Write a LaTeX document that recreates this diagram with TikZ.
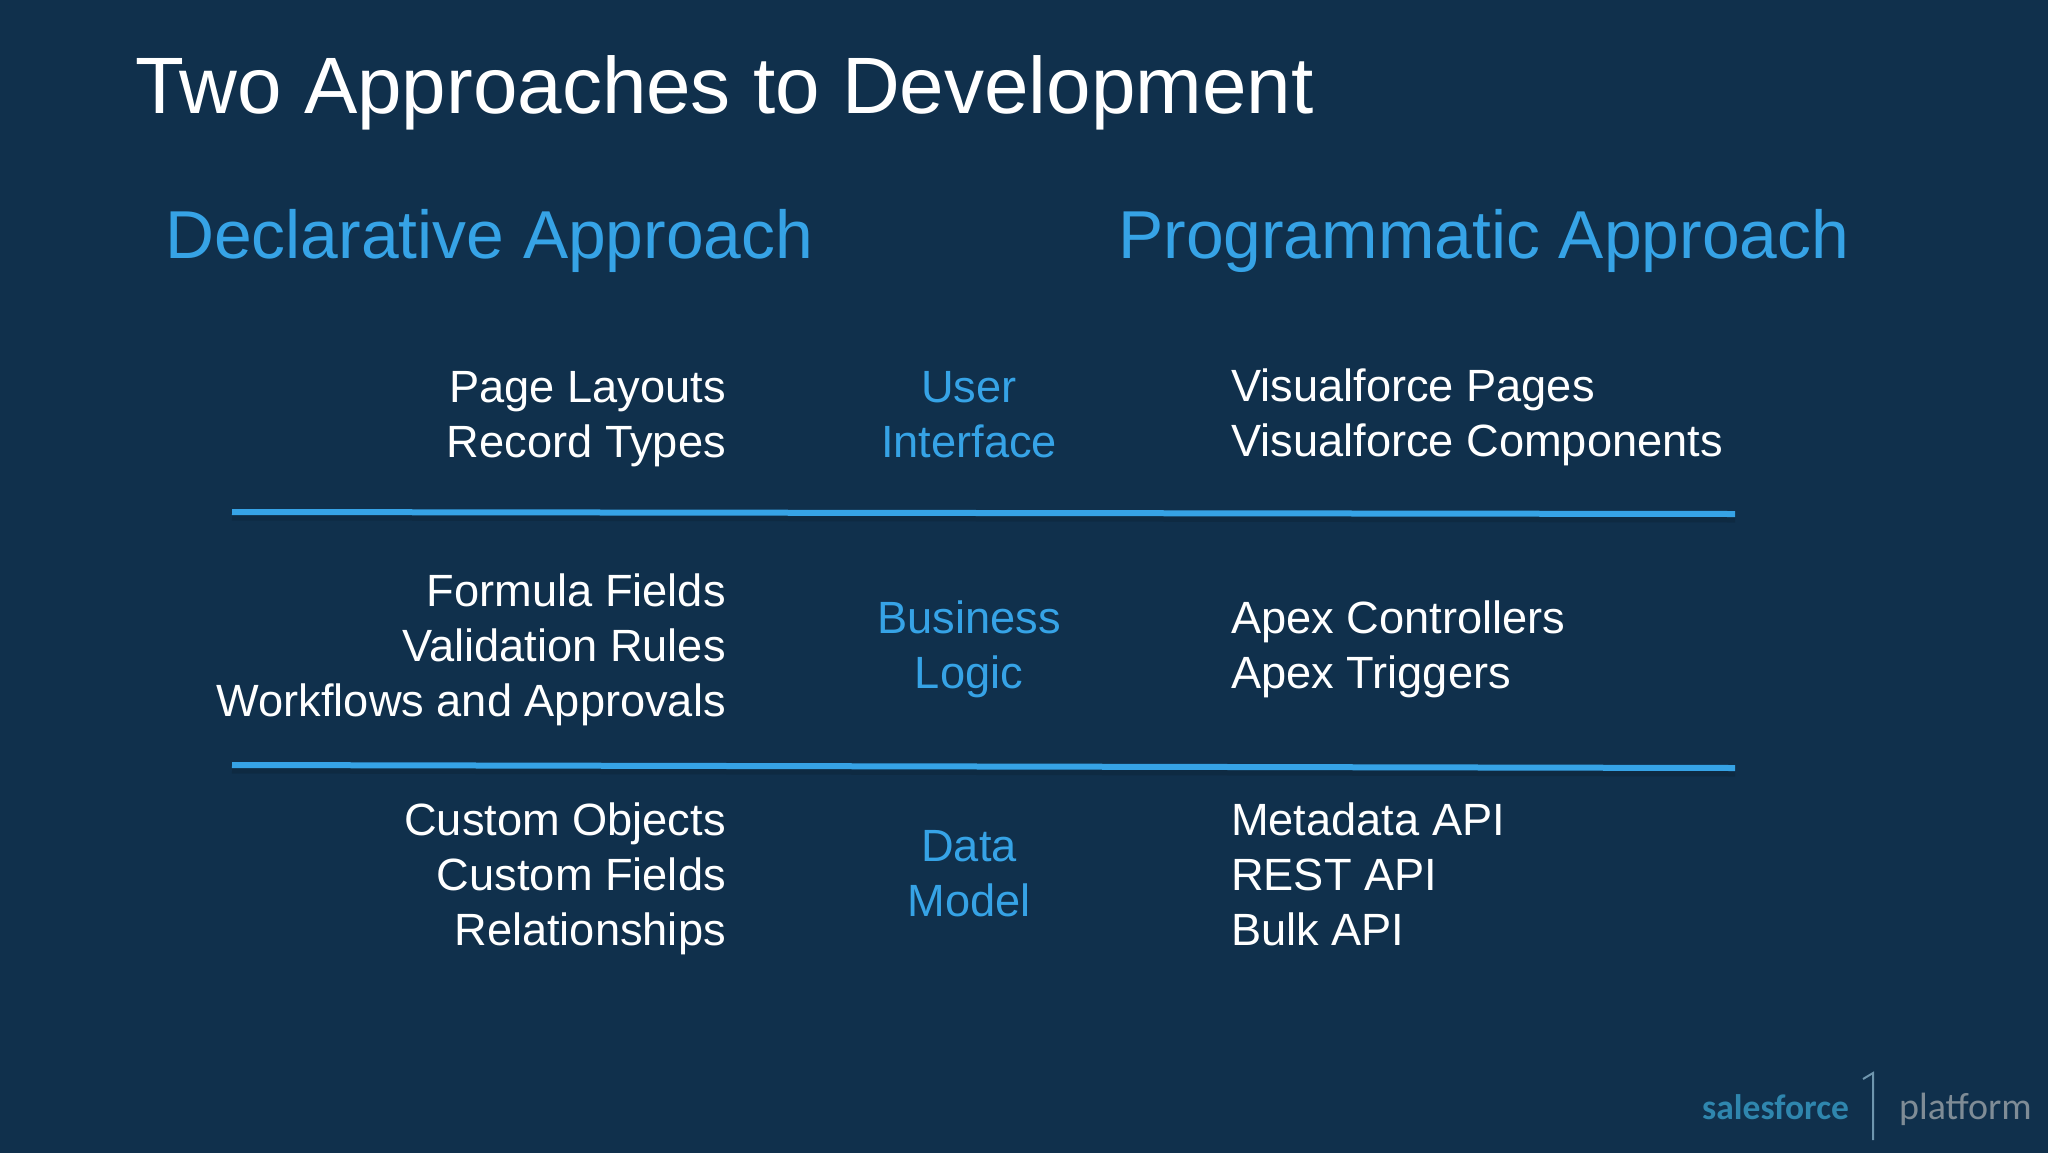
\documentclass[tikz,border=0pt]{standalone}
\usepackage{fontspec}
\setmainfont{Liberation Sans}
\newfontfamily\logofont{Carlito}
\definecolor{bgc}{HTML}{10304C}
\definecolor{acc}{HTML}{36A3E6}
\definecolor{txt}{HTML}{FFFFFF}
\definecolor{sfc}{HTML}{2F86AE}
\definecolor{plc}{HTML}{7F8C96}
\definecolor{barc}{HTML}{6F96AE}
\begin{document}
\begin{tikzpicture}[x=1pt,y=-1pt,
 title/.style={anchor=base west,inner sep=0,text=txt,font=\fontsize{80}{80}\selectfont},
 head/.style={anchor=base west,inner sep=0,text=acc,font=\fontsize{67.8}{68}\selectfont},
 lft/.style={anchor=base east,inner sep=0,text=txt,font=\fontsize{45.2}{46}\selectfont},
 rgt/.style={anchor=base west,inner sep=0,text=txt,font=\fontsize{45.2}{46}\selectfont},
 mid/.style={anchor=base,inner sep=0,text=acc,font=\fontsize{45.2}{46}\selectfont},
 rule/.style={draw=acc,line width=6pt},
 ruleshade/.style={draw=black,opacity=0.12,line width=7pt}]
\useasboundingbox (0,0) rectangle (2048,1152);
\clip (0,0) rectangle (2048,1152);
\fill[bgc] (-2,-2) rectangle (2050,1154);
\node[title] (t) at (135,113) {Two Approaches to Development};
\node[head] (h1) at (165,258) {Declarative Approach};
\node[head] (h2) at (1118,258) {Programmatic Approach};
\foreach \n/\y/\s in {a/402/Page Layouts,b/457/Record Types,c/606/Formula Fields,d/661/Validation Rules,e/716/Workflows and Approvals,f/835/Custom Objects,g/890/Custom Fields,i/945/Relationships}
  \node[lft] (l\n) at (726,\y) {\s};
\foreach \n/\y/\s in {a/402/User,b/457/Interface,c/633/Business,d/688/Logic,e/861/Data,f/916/Model}
  \node[mid] (m\n) at (969,\y) {\s};
\foreach \n/\y/\s in {a/401/Visualforce Pages,b/456/Visualforce Components,c/633/Apex Controllers,d/688/Apex Triggers,e/835/Metadata API,f/890/REST API,g/945/Bulk API}
  \node[rgt] (r\n) at (1231,\y) {\s};
\coordinate (r1a) at (232,512); \coordinate (r1b) at (1735,514);
\coordinate (r2a) at (232,765); \coordinate (r2b) at (1735,768);
\draw[ruleshade] ([yshift=-5pt]r1a) -- ([yshift=-5pt]r1b);
\draw[ruleshade] ([yshift=-5pt]r2a) -- ([yshift=-5pt]r2b);
\draw[rule] (r1a) -- (r1b);
\draw[rule] (r2a) -- (r2b);
\node[anchor=base west,inner sep=0,text=sfc,font=\logofont\fontsize{35.5}{36}\selectfont\bfseries] (sf) at (1702,1119) {salesforce};
\coordinate (ba) at (1873,1140); \coordinate (bb) at (1873,1073); \coordinate (bc) at (1863,1079);
\draw[barc,line width=2pt] (ba) -- (bb) -- (bc);
\node[anchor=base west,inner sep=0,text=plc,font=\logofont\fontsize{38}{38}\selectfont] (pl) at (1899,1119) {platform};
\end{tikzpicture}
\end{document}
